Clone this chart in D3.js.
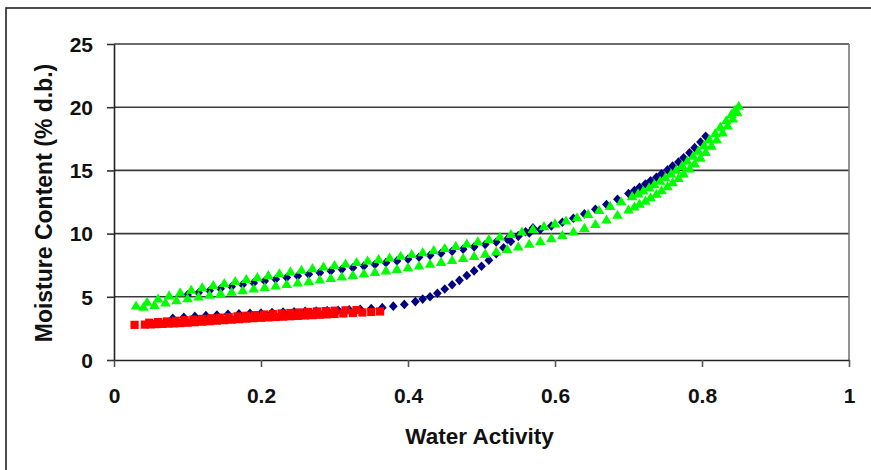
<!DOCTYPE html>
<html><head><meta charset="utf-8">
<script src="https://cdn.jsdelivr.net/npm/d3@7"></script>
<style>html,body{margin:0;padding:0;background:#fff;}svg{display:block;}</style>
</head><body>
<script>
// ---- data (water activity, moisture content % d.b.) ----
const xTicks = [0, 0.2, 0.4, 0.6, 0.8, 1];
const xTickLabels = ["0", "0.2", "0.4", "0.6", "0.8", "1"];
const yTicks = [0, 5, 10, 15, 20, 25];
const yTickLabels = ["0", "5", "10", "15", "20", "25"];
const xTitle = "Water Activity";
const yTitle = "Moisture Content (% d.b.)";

// blue series – adsorption branch
const blueAds = [[0.080,3.30],[0.095,3.38],[0.110,3.45],[0.125,3.51],[0.140,3.56],[0.155,3.61],[0.170,3.65],[0.185,3.69],[0.200,3.72],[0.215,3.76],[0.230,3.79],[0.245,3.82],[0.260,3.85],[0.275,3.88],[0.290,3.91],[0.305,3.94],[0.320,3.98],[0.335,4.02],[0.350,4.07],[0.365,4.14],[0.380,4.26],[0.395,4.40],[0.410,4.62],[0.420,4.82],[0.430,5.00],[0.440,5.28],[0.450,5.62],[0.460,5.95],[0.470,6.30],[0.480,6.68],[0.490,7.05],[0.500,7.42],[0.510,7.90],[0.520,8.40],[0.530,8.88],[0.540,9.38],[0.550,9.82],[0.560,10.15],[0.570,10.45]];
// blue series – desorption branch
const blueDes = [[0.100,5.15],[0.115,5.32],[0.130,5.48],[0.145,5.64],[0.160,5.80],[0.175,5.95],[0.190,6.10],[0.205,6.25],[0.220,6.39],[0.235,6.52],[0.250,6.65],[0.265,6.78],[0.280,6.91],[0.295,7.04],[0.310,7.17],[0.325,7.30],[0.340,7.43],[0.355,7.56],[0.370,7.70],[0.385,7.84],[0.400,7.98],[0.415,8.13],[0.430,8.28],[0.445,8.44],[0.460,8.60],[0.475,8.77],[0.490,8.95],[0.505,9.14],[0.520,9.34],[0.535,9.56],[0.550,9.80],[0.565,10.05],[0.580,10.32],[0.595,10.60],[0.610,10.90],[0.625,11.22],[0.640,11.56],[0.655,11.92],[0.670,12.30],[0.685,12.72],[0.700,13.17],[0.708,13.41],[0.715,13.66],[0.723,13.92],[0.730,14.18],[0.738,14.46],[0.745,14.74],[0.753,15.04],[0.760,15.34],[0.768,15.67],[0.775,16.00],[0.783,16.40],[0.790,16.80],[0.798,17.25],[0.805,17.70]];
// red series – two close branches
const redA = [[0.028,2.78],[0.042,2.80],[0.050,2.82],[0.058,2.84],[0.066,2.86],[0.074,2.88],[0.082,2.90],[0.090,2.92],[0.100,2.95],[0.110,2.99],[0.120,3.03],[0.130,3.07],[0.140,3.11],[0.150,3.15],[0.160,3.19],[0.170,3.23],[0.180,3.27],[0.190,3.31],[0.200,3.34],[0.210,3.37],[0.220,3.40],[0.230,3.43],[0.240,3.46],[0.250,3.49],[0.260,3.52],[0.270,3.55],[0.280,3.58],[0.290,3.61],[0.300,3.64],[0.312,3.68],[0.325,3.72],[0.338,3.76],[0.350,3.80],[0.362,3.84]];
const redB = [[0.048,2.95],[0.060,3.00],[0.072,3.05],[0.084,3.10],[0.096,3.15],[0.108,3.20],[0.120,3.25],[0.132,3.30],[0.144,3.35],[0.156,3.40],[0.168,3.45],[0.180,3.50],[0.192,3.55],[0.204,3.60],[0.216,3.64],[0.228,3.68],[0.240,3.72],[0.252,3.76],[0.264,3.80],[0.276,3.84],[0.288,3.87],[0.300,3.90],[0.315,3.93],[0.330,3.95]];
// green series – desorption (upper) and adsorption (lower) branches
const greenDes = [[0.030,4.30],[0.045,4.60],[0.060,4.85],[0.075,5.10],[0.090,5.35],[0.105,5.55],[0.120,5.75],[0.135,5.92],[0.150,6.08],[0.165,6.24],[0.180,6.40],[0.195,6.55],[0.210,6.70],[0.225,6.85],[0.240,7.00],[0.255,7.13],[0.270,7.26],[0.285,7.38],[0.300,7.50],[0.315,7.62],[0.330,7.74],[0.345,7.86],[0.360,7.98],[0.375,8.10],[0.390,8.23],[0.405,8.37],[0.420,8.52],[0.435,8.68],[0.450,8.85],[0.465,9.02],[0.480,9.20],[0.495,9.38],[0.510,9.56],[0.525,9.76],[0.540,9.96],[0.555,10.16],[0.570,10.36],[0.585,10.58],[0.600,10.80],[0.615,11.03],[0.630,11.28],[0.645,11.55],[0.660,11.85],[0.675,12.18],[0.690,12.55],[0.705,12.95],[0.713,13.17],[0.720,13.40],[0.728,13.65],[0.735,13.90],[0.743,14.17],[0.750,14.45],[0.758,14.75],[0.765,15.05],[0.773,15.40],[0.780,15.75],[0.788,16.15],[0.795,16.55],[0.803,17.00],[0.810,17.45],[0.818,17.95],[0.825,18.45],[0.833,18.95],[0.840,19.45],[0.845,19.80],[0.850,20.10]];
const greenAds = [[0.040,4.20],[0.055,4.35],[0.070,4.55],[0.085,4.72],[0.100,4.88],[0.115,5.02],[0.130,5.15],[0.145,5.28],[0.160,5.40],[0.175,5.52],[0.190,5.64],[0.205,5.76],[0.220,5.88],[0.235,6.00],[0.250,6.12],[0.265,6.24],[0.280,6.36],[0.295,6.48],[0.310,6.60],[0.325,6.72],[0.340,6.84],[0.355,6.96],[0.370,7.08],[0.385,7.20],[0.400,7.33],[0.415,7.46],[0.430,7.60],[0.445,7.75],[0.460,7.90],[0.475,8.06],[0.490,8.22],[0.505,8.40],[0.520,8.58],[0.535,8.77],[0.550,8.97],[0.565,9.18],[0.580,9.40],[0.595,9.63],[0.610,9.88],[0.625,10.15],[0.640,10.44],[0.655,10.75],[0.670,11.10],[0.685,11.48],[0.700,11.90],[0.708,12.13],[0.715,12.36],[0.723,12.60],[0.730,12.86],[0.738,13.14],[0.745,13.42],[0.753,13.73],[0.760,14.05],[0.768,14.40],[0.775,14.75],[0.783,15.15],[0.790,15.55],[0.798,16.00],[0.805,16.45],[0.813,16.95],[0.820,17.45],[0.828,18.00],[0.835,18.55],[0.842,19.10],[0.848,19.60]];

// ---- layout ----
const W = 871, H = 470;
const mLeft = 114, mRight = 849, mTop = 44, mBottom = 360;
const svg = d3.select("body").append("svg").attr("width", W).attr("height", H);
const font = "'Liberation Sans', Arial, sans-serif";

// outer frame (only top & left visible in the crop)
svg.append("rect").attr("x", 6).attr("y", 8).attr("width", 1000).attr("height", 1000)
  .attr("fill", "none").attr("stroke", "#222").attr("stroke-width", 1.6);

const x = d3.scaleLinear().domain([0, 1]).range([mLeft, mRight]);
const y = d3.scaleLinear().domain([0, 25]).range([mBottom, mTop]);

// gridlines
svg.append("g").selectAll("line").data(yTicks.filter(d => d > 0)).join("line")
  .attr("x1", mLeft).attr("x2", mRight).attr("y1", d => y(d)).attr("y2", d => y(d))
  .attr("stroke", "#3a3a3a").attr("stroke-width", 1.6);
// right border of plot area
svg.append("line").attr("x1", mRight).attr("x2", mRight).attr("y1", mTop).attr("y2", mBottom)
  .attr("stroke", "#777").attr("stroke-width", 1.6);

// axes
const xAxis = d3.axisBottom(x).tickValues(xTicks).tickFormat((d, i) => xTickLabels[i]).tickSize(7).tickSizeOuter(0);
const gx = svg.append("g").attr("transform", `translate(0,${mBottom})`).call(xAxis);
gx.select(".domain").attr("stroke", "#222").attr("stroke-width", 1.6);
gx.selectAll(".tick line").attr("stroke", "#555").attr("stroke-width", 1.6);
gx.selectAll(".tick text").attr("font-family", font).attr("font-weight", "bold")
  .attr("font-size", 21).attr("fill", "#111").attr("dy", 0).attr("y", 43);

const yAxis = d3.axisLeft(y).tickValues(yTicks).tickFormat((d, i) => yTickLabels[i]).tickSize(7).tickSizeOuter(0);
const gy = svg.append("g").attr("transform", `translate(${mLeft},0)`).call(yAxis);
gy.select(".domain").attr("stroke", "#222").attr("stroke-width", 1.6);
gy.selectAll(".tick line").attr("stroke", "#333").attr("stroke-width", 1.6);
gy.selectAll(".tick text").attr("font-family", font).attr("font-weight", "bold")
  .attr("font-size", 21).attr("fill", "#111").attr("x", -21).attr("dy", "0.35em");

// titles
svg.append("text").attr("x", (mLeft + mRight) / 2 - 2).attr("y", 444).attr("text-anchor", "middle")
  .attr("font-family", font).attr("font-weight", "bold").attr("font-size", 22.5).attr("fill", "#111").text(xTitle);
svg.append("text").attr("transform", `translate(52,${(mTop + mBottom) / 2 + 1}) rotate(-90)`).attr("text-anchor", "middle")
  .attr("font-family", font).attr("font-weight", "bold").attr("font-size", 23).attr("fill", "#111").text(yTitle);

// markers
const gm = svg.append("g");
function plotDiamonds(data) {
  gm.append("g").selectAll("path").data(data).join("path")
    .attr("d", "M0,-4.8L4.4,0L0,4.8L-4.4,0Z")
    .attr("transform", d => `translate(${x(d[0])},${y(d[1])})`)
    .attr("fill", "#000080");
}
function plotSquares(data) {
  gm.append("g").selectAll("rect").data(data).join("rect")
    .attr("x", d => x(d[0]) - 4.1).attr("y", d => y(d[1]) - 4.1)
    .attr("width", 8.2).attr("height", 8.2).attr("fill", "#ff0000");
}
function plotTriangles(data) {
  gm.append("g").selectAll("path").data(data).join("path")
    .attr("d", "M0,-5.2L5.3,3.9L-5.3,3.9Z")
    .attr("transform", d => `translate(${x(d[0])},${y(d[1])})`)
    .attr("fill", "#00ff00");
}
plotDiamonds(blueAds);
plotDiamonds(blueDes);
plotSquares(redA);
plotSquares(redB);
plotTriangles(greenAds);
plotTriangles(greenDes);
</script>
</body></html>
